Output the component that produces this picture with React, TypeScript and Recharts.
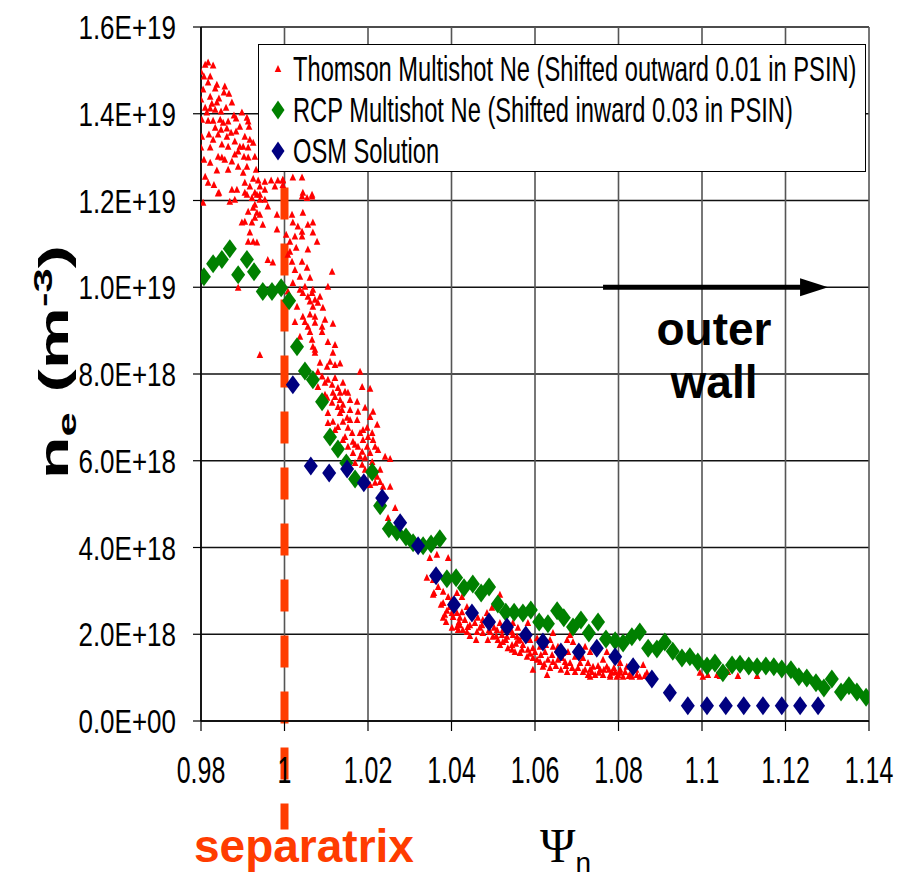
import React from 'react'
import {
  ScatterChart, Scatter, XAxis, YAxis, CartesianGrid,
  ReferenceLine, Legend, Customized,
} from 'recharts'

// axis ticks: psi_n and n_e in units of 1e18 m^-3
const psiTicks = [0.98, 1.0, 1.02, 1.04, 1.06, 1.08, 1.1, 1.12, 1.14]
const neTicks = [0, 2, 4, 6, 8, 10, 12, 14, 16]

// Thomson multishot [psi_n, n_e (1e18)]
const thomson: [number, number][] = [
  [0.9817, 15.18], [0.981, 15.13], [0.9829, 15.11], [0.98, 14.97], [0.9807, 14.86], [0.9822, 14.86],
  [0.9817, 14.72], [0.9838, 14.67], [0.9805, 14.56], [0.9834, 14.58], [0.9857, 14.63], [0.9855, 14.49],
  [0.9867, 14.46], [0.98, 14.33], [0.9822, 14.39], [0.9843, 14.35], [0.9826, 14.23], [0.9838, 14.26],
  [0.9874, 14.26], [0.986, 14.14], [0.9822, 14.12], [0.9834, 14.09], [0.9814, 14.03], [0.9879, 13.96],
  [0.9898, 14.03], [0.9802, 13.86], [0.9817, 13.84], [0.9829, 13.84], [0.9846, 13.86], [0.9853, 13.79],
  [0.9865, 13.82], [0.9884, 13.89], [0.991, 13.91], [0.9913, 13.82], [0.9893, 13.7], [0.9915, 13.7],
  [0.9834, 13.68], [0.9848, 13.63], [0.9862, 13.66], [0.9872, 13.56], [0.9802, 13.47], [0.9819, 13.52],
  [0.9841, 13.52], [0.9862, 13.47], [0.9905, 13.47], [0.9917, 13.4], [0.9881, 13.36], [0.985, 13.29],
  [0.9865, 13.24], [0.98, 13.22], [0.9822, 13.22], [0.9901, 13.24], [0.9913, 13.22], [0.9925, 13.33],
  [0.9889, 13.13], [0.9881, 13.06], [0.9841, 13.01], [0.985, 12.99], [0.9903, 13.01], [0.9913, 12.99],
  [0.9929, 13.01], [0.9822, 12.87], [0.9874, 12.9], [0.9889, 12.78], [0.991, 12.78], [0.9838, 12.69],
  [0.9865, 12.71], [0.9901, 12.64], [0.981, 12.55], [0.9925, 12.5], [0.9937, 12.46], [0.9953, 12.43],
  [0.9968, 12.46], [0.9984, 12.46], [0.9996, 12.46], [1.002, 12.53], [1.0042, 12.53], [0.9817, 12.41],
  [0.9905, 12.41], [0.9917, 12.32], [0.9941, 12.32], [0.9874, 12.25], [0.9886, 12.25], [0.9953, 12.25],
  [0.9977, 12.32], [0.9843, 12.18], [0.9905, 12.18], [0.9929, 12.18], [0.9941, 12.13], [1.0044, 12.18],
  [1.0066, 12.13], [0.9805, 11.95], [0.9841, 12.16], [0.9869, 11.97], [0.9881, 12.02], [0.991, 12.13],
  [0.9922, 12.06], [0.9934, 12.13], [0.9929, 11.9], [0.9941, 12.02], [0.9953, 12.02], [0.9913, 11.74],
  [0.9925, 11.83], [0.9934, 11.72], [0.9929, 11.6], [0.9941, 11.67], [0.996, 11.86], [0.9982, 11.67],
  [0.9905, 11.51], [0.9898, 11.49], [0.9922, 11.49], [0.9948, 11.44], [0.9917, 11.26], [0.9982, 11.33],
  [0.9913, 11.05], [0.9925, 11.05], [0.9934, 11.03], [0.996, 10.63], [0.9972, 10.57], [0.9889, 9.99],
  [0.9941, 8.44], [1.0042, 12.09], [1.0054, 12.06], [1.0066, 12.09], [1.0018, 11.67], [1.0044, 11.72],
  [1.002, 11.49], [1.0032, 11.4], [1.0042, 11.28], [1.0056, 11.44], [1.0068, 11.49], [1.0025, 11.17],
  [1.0042, 11.17], [1.0068, 11.26], [1.0013, 11.05], [1.0078, 11.05], [1.0013, 10.82], [1.0056, 10.87],
  [1.0018, 10.59], [1.0042, 10.59], [1.0025, 10.4], [1.0054, 10.45], [1.0037, 10.24], [1.0061, 10.22],
  [1.002, 10.1], [1.0049, 10.01], [1.0068, 9.94], [1.0008, 9.9], [1.0044, 9.87], [1.0056, 9.78],
  [1.0066, 9.87], [1.0073, 9.71], [1.0085, 9.78], [1.0061, 9.67], [1.0068, 9.55], [1.008, 9.64],
  [1.0092, 9.53], [1.0061, 9.37], [1.0073, 9.32], [1.0044, 9.32], [1.0049, 9.2], [1.0025, 9.2],
  [1.0073, 9.18], [1.0056, 9.09], [1.009, 9.09], [1.0061, 8.97], [1.009, 8.97], [1.0037, 8.86],
  [1.0066, 8.79], [1.0068, 8.63], [1.0073, 8.56], [0.9996, 12.48], [0.9996, 12.36], [1.0114, 10.36],
  [1.0104, 10.01], [1.0097, 9.25], [1.0116, 9.16], [1.0104, 8.74], [1.0121, 8.67], [1.0116, 8.49],
  [1.0073, 8.49], [1.0085, 8.26], [1.0109, 8.28], [1.0121, 8.21], [1.0133, 8.24], [1.0102, 8.17],
  [1.0181, 8.05], [1.009, 7.94], [1.0104, 7.87], [1.0121, 7.91], [1.0097, 7.8], [1.0114, 7.75],
  [1.014, 7.8], [1.008, 7.7], [1.0128, 7.68], [1.0186, 7.7], [1.0205, 7.66], [1.0116, 7.57],
  [1.0133, 7.57], [1.0145, 7.59], [1.0152, 7.57], [1.0102, 7.45], [1.0121, 7.47], [1.0133, 7.4],
  [1.0174, 7.36], [1.0114, 7.34], [1.0128, 7.24], [1.014, 7.29], [1.0157, 7.17], [1.0176, 7.13],
  [1.0193, 7.22], [1.0212, 7.13], [1.0104, 7.1], [1.0133, 7.1], [1.0205, 7.01], [1.015, 6.99],
  [1.0116, 6.9], [1.014, 6.9], [1.0157, 6.94], [1.0174, 6.94], [1.0222, 6.83], [1.0104, 6.87],
  [1.0128, 6.78], [1.0152, 6.76], [1.0188, 6.71], [1.0198, 6.76], [1.0162, 6.64], [1.0181, 6.64],
  [1.02, 6.55], [1.021, 6.64], [1.014, 6.48], [1.0164, 6.44], [1.0188, 6.48], [1.0212, 6.48],
  [1.0176, 6.32], [1.0198, 6.32], [1.0217, 6.32], [1.0224, 6.25], [1.0152, 6.32], [1.0164, 6.18],
  [1.0186, 6.21], [1.0205, 6.18], [1.0241, 6.09], [1.0253, 6.04], [1.0181, 6.09], [1.0193, 6.07],
  [1.0152, 6.02], [1.0169, 5.95], [1.0186, 5.91], [1.0222, 5.63], [1.0217, 5.49], [1.0205, 5.44],
  [1.0229, 5.51], [1.0236, 5.4], [1.0253, 5.4], [1.0265, 4.91], [1.0248, 4.68], [1.0348, 3.76],
  [1.0365, 3.83], [1.0392, 3.76], [1.0341, 3.3], [1.0356, 3.25], [1.0368, 3.09], [1.0356, 2.91],
  [1.038, 2.98], [1.0392, 2.86], [1.0401, 2.79], [1.0413, 2.95], [1.0425, 2.86], [1.038, 2.72],
  [1.0396, 2.63], [1.0384, 2.45], [1.0401, 2.49], [1.0413, 2.49], [1.0425, 2.51], [1.0437, 2.63],
  [1.042, 2.38], [1.0432, 2.33], [1.0449, 2.45], [1.042, 2.21], [1.0416, 2.1], [1.0439, 2.17],
  [1.0456, 2.26], [1.0468, 2.15], [1.0475, 2.33], [1.0485, 2.49], [1.0497, 2.61], [1.0516, 2.91],
  [1.0461, 2.05], [1.0475, 2.03], [1.0492, 2.05], [1.0509, 2.1], [1.0516, 2.26], [1.0528, 2.17],
  [1.0547, 2.26], [1.0545, 2.05], [1.0559, 2.15], [1.0499, 1.94], [1.0521, 1.98], [1.0523, 2.1],
  [1.0533, 1.94], [1.054, 2.1], [1.0547, 1.98], [1.0557, 1.94], [1.0564, 1.87], [1.0571, 1.75],
  [1.0583, 2.26], [1.0588, 1.87], [1.0595, 1.68], [1.0595, 1.18], [1.0605, 1.91], [1.0612, 1.71],
  [1.0624, 1.59], [1.0629, 1.06], [1.0636, 1.87], [1.0643, 1.71], [1.0643, 2.03], [1.0655, 1.71],
  [1.0677, 1.87], [1.0684, 1.98], [1.0691, 1.82], [1.0643, 1.36], [1.0655, 1.41], [1.0672, 1.36],
  [1.0684, 1.34], [1.0696, 1.48], [1.0708, 1.34], [1.0715, 1.45], [1.0727, 1.34], [1.0727, 1.06],
  [1.0739, 1.25], [1.0744, 1.06], [1.0756, 1.18], [1.0763, 1.06], [1.0772, 1.25], [1.0784, 1.11],
  [1.0792, 1.13], [1.0799, 1.06], [1.0763, 1.41], [1.0772, 1.59], [1.0732, 1.59], [1.072, 1.71],
  [1.0804, 1.34], [1.082, 1.25], [1.0827, 1.06], [1.0844, 1.06], [1.0859, 1.29], [1.0868, 1.11],
  [1.0995, 1.11], [1.1002, 1.02], [1.1014, 1.06], [1.1036, 1.06], [1.0612, 1.36], [1.0619, 1.25],
  [1.0595, 1.45], [1.0581, 1.48], [1.0564, 1.57], [1.0552, 1.59], [1.0535, 1.68], [1.0631, 1.41],
  [1.0667, 1.57], [1.0679, 1.59], [1.0701, 1.64], [1.0708, 1.68], [1.0677, 1.13], [1.0696, 1.13],
  [1.0715, 1.13], [1.0732, 1.18], [1.078, 1.02], [1.0796, 1.02], [1.0811, 1.02], [1.0832, 1.02],
  [1.0851, 1.02], [1.0358, 2.95], [1.038, 2.38], [1.0413, 2.17], [1.0437, 2.05], [1.0511, 1.87],
  [1.0545, 1.64], [1.0732, 1.02], [1.0753, 1.11], [1.078, 1.06], [1.0804, 1.11], [1.0825, 1.04],
  [1.1062, 1.13], [1.1086, 1.04], [1.1132, 1.04], [1.1043, 1.04],
  [1.0375, 2.68], [1.0389, 2.54], [1.0404, 2.4], [1.0418, 2.28], [1.0387, 2.28], [1.0401, 2.15],
  [1.0427, 2.1], [1.0444, 1.96], [1.0459, 1.87], [1.0473, 2.21], [1.0487, 1.87], [1.0502, 2.15],
  [1.0516, 1.75], [1.053, 1.87], [1.0545, 1.75], [1.0559, 1.85], [1.0574, 1.96], [1.0583, 1.64],
  [1.06, 1.59], [1.0614, 1.52], [1.0626, 1.75], [1.0641, 1.52], [1.0653, 1.64], [1.0665, 1.45],
  [1.0674, 1.27], [1.0689, 1.22], [1.0703, 1.22], [1.072, 1.18], [1.0736, 1.13], [1.0751, 1.27],
  [1.0765, 1.18], [1.0777, 1.18], [1.0789, 1.22], [1.0804, 1.18], [1.0816, 1.13], [1.0842, 1.18],
  [1.0863, 1.04], [1.0444, 2.21], [1.0463, 2.38], [1.049, 2.1], [1.0507, 1.96], [1.0523, 1.82],
  [1.0554, 1.78], [1.0569, 1.64], [1.0588, 1.55], [1.0605, 1.41], [1.0622, 1.31], [1.0636, 1.22],
  [1.065, 1.27], [1.0662, 1.18], [1.0121, 6.71], [1.0145, 6.55], [1.0169, 6.37], [1.0138, 7.17],
  [1.0157, 7.4], [1.0097, 7.52], [1.008, 8.05], [1.0193, 5.79], [1.021, 5.97], [1.0229, 5.79],
  [1.0004, 11.21], [1.0008, 10.75], [1.0028, 10.91], [1.0037, 9.94], [1.003, 9.55], [0.981, 14.14],
  [0.9829, 13.4], [0.9848, 14.05], [0.9884, 13.59], [0.9857, 12.94], [0.9893, 13.24], [0.9932, 12.71],
  [0.9807, 12.94], [0.9831, 12.36],
]

// RCP multishot
const rcp: [number, number][] = [
  [0.9807, 10.24], [0.9829, 10.54], [0.985, 10.64], [0.9869, 10.89], [0.9889, 10.29], [0.991, 10.64],
  [0.9927, 10.36], [0.9948, 9.9], [0.997, 9.9], [0.9992, 9.99], [1.0011, 9.69], [1.003, 8.63],
  [1.0049, 8.07], [1.0068, 7.87], [1.009, 7.36], [1.0109, 6.55], [1.0128, 6.27], [1.0148, 5.95],
  [1.0169, 5.58], [1.021, 5.74], [1.0229, 4.96], [1.025, 4.43], [1.0269, 4.36], [1.0291, 4.24],
  [1.0308, 4.11], [1.0332, 4.04], [1.0351, 4.08], [1.0372, 4.2], [1.0389, 3.28], [1.0411, 3.3],
  [1.043, 3.07], [1.0451, 3.16], [1.0471, 2.95], [1.049, 3.09], [1.0511, 2.7], [1.053, 2.51],
  [1.055, 2.51], [1.0571, 2.49], [1.059, 2.56], [1.061, 2.28], [1.0631, 2.24], [1.0653, 2.54],
  [1.0669, 2.38], [1.0691, 2.17], [1.071, 2.33], [1.0729, 2.03], [1.0751, 2.28], [1.077, 1.89],
  [1.0792, 1.85], [1.0811, 1.8], [1.0832, 1.94], [1.0851, 2.05], [1.0871, 1.68], [1.0892, 1.66],
  [1.0911, 1.82], [1.093, 1.61], [1.0952, 1.45], [1.0971, 1.48], [1.099, 1.36], [1.1012, 1.27],
  [1.1031, 1.34], [1.105, 1.11], [1.1072, 1.29], [1.1091, 1.31], [1.1112, 1.27], [1.1132, 1.25],
  [1.1153, 1.27], [1.1172, 1.25], [1.1191, 1.2], [1.1213, 1.18], [1.1232, 1.02], [1.1251, 0.99],
  [1.1273, 0.88], [1.1292, 0.76], [1.1311, 0.97], [1.1333, 0.67], [1.1352, 0.81], [1.1371, 0.67],
  [1.1393, 0.55],
]

// OSM solution
const osm: [number, number][] = [
  [1.002, 7.75], [1.0063, 5.88], [1.0107, 5.72], [1.015, 5.81], [1.019, 5.49], [1.0234, 5.14],
  [1.0277, 4.57], [1.032, 4.04], [1.0363, 3.35], [1.0406, 2.68], [1.0449, 2.49], [1.049, 2.28],
  [1.0533, 2.17], [1.0578, 1.98], [1.0619, 1.82], [1.0662, 1.59], [1.0705, 1.59], [1.0748, 1.68],
  [1.0792, 1.48], [1.0835, 1.25], [1.088, 0.97], [1.0923, 0.65], [1.0966, 0.35], [1.1012, 0.35],
  [1.1057, 0.35], [1.11, 0.35], [1.1146, 0.35], [1.1191, 0.35], [1.1235, 0.35], [1.1278, 0.35],
]

const separatrixPsi = 1.0
const wallArrow = { from: 1.0763, to: 1.1302, ne: 10 }

const FONT = '"Liberation Sans", Arial, sans-serif'
const ORANGE = '#ff3c00'

const toPts = (arr: [number, number][]) => arr.map(([x, y]) => ({ x, y }))

// 1.6E+19 style labels
const fmtNe = (v: number) => {
  const [m, ex] = (v * 1e18).toExponential(1).split('e')
  const n = parseInt(ex, 10)
  return `${m}E${n < 0 ? '-' : '+'}${String(Math.abs(n)).padStart(2, '0')}`
}
const fmtPsi = (v: number) => String(Number(v.toFixed(2)))

const Triangle = (p: any) => (
  <polygon
    points={`${p.cx},${p.cy - 4} ${p.cx - 3.3},${p.cy + 3} ${p.cx + 3.3},${p.cy + 3}`}
    fill="#ff0000"
  />
)

const diamond = (color: string) => (p: any) => (
  <polygon
    points={`${p.cx},${p.cy - 9.5} ${p.cx + 7},${p.cy} ${p.cx},${p.cy + 9.5} ${p.cx - 7},${p.cy}`}
    fill={color}
  />
)

const XTick = ({ x, y, payload }: any) => (
  <g transform={`translate(${x},${y})`}>
    <text transform="scale(1,1.5)" y={35} textAnchor="middle" fontFamily={FONT} fontSize={25} fill="#000">
      {fmtPsi(payload.value)}
    </text>
  </g>
)

const YTick = ({ x, y, payload }: any) => (
  <g transform={`translate(${x},${y})`}>
    <text transform="scale(1,1.3)" y={9.3} textAnchor="end" fontFamily={FONT} fontSize={26} fill="#000">
      {fmtNe(payload.value)}
    </text>
  </g>
)

const ArrowShape = (p: any) => {
  const { x1, y1, x2 } = p
  return (
    <g>
      <line x1={x1} y1={y1} x2={x2 - 22} y2={y1} stroke="#000" strokeWidth={5} />
      <polygon points={`${x2},${y1} ${x2 - 28},${y1 - 9} ${x2 - 28},${y1 + 9}`} fill="#000" />
    </g>
  )
}

const Annotations = () => (
  <g>
    <text x={714} y={345} textAnchor="middle" fontFamily={FONT} fontWeight="bold" fontSize={46}>outer</text>
    <text x={714} y={398} textAnchor="middle" fontFamily={FONT} fontWeight="bold" fontSize={46}>wall</text>
    <text x={194} y={862} fontFamily={FONT} fontWeight="bold" fontSize={46} fill={ORANGE}>separatrix</text>
    <text x={540} y={862} fontFamily='"Liberation Serif", "Times New Roman", serif' fontSize={48}>
      Ψ<tspan fontFamily={FONT} fontSize={28} dy={10}>n</tspan>
    </text>
    <text
      transform="translate(68,362) rotate(-90) scale(1.75,1)"
      textAnchor="middle"
      fontFamily={FONT}
      fontWeight="bold"
      fontSize={40}
    >
      n<tspan fontSize={25} dy={8}>e</tspan>
      <tspan dy={-8}>{' (m'}</tspan>
      <tspan fontSize={25} dy={-16}>-3</tspan>
      <tspan dy={16}>)</tspan>
    </text>
  </g>
)

const legendRows = [
  { label: 'Thomson Multishot Ne (Shifted outward 0.01 in PSIN)', kind: 'tri', color: '#ff0000' },
  { label: 'RCP Multishot Ne (Shifted inward 0.03 in PSIN)', kind: 'dia', color: '#008000' },
  { label: 'OSM Solution', kind: 'dia', color: '#000080' },
]

const LegendBox = () => (
  <div
    style={{
      position: 'relative', width: 608, height: 128, boxSizing: 'border-box',
      background: '#fff', border: '1.5px solid #000', fontFamily: FONT,
    }}
  >
    {legendRows.map((r, i) => (
      <div key={r.label} style={{ position: 'absolute', left: 0, top: 4 + i * 41, height: 40, width: '100%' }}>
        <svg width={30} height={40} style={{ position: 'absolute', left: 4, top: 0 }}>
          {r.kind === 'tri'
            ? <polygon points="15,16 11.7,23 18.3,23" fill={r.color} />
            : <polygon points="15,10.5 21.5,20 15,29.5 8.5,20" fill={r.color} />}
        </svg>
        <span
          style={{
            position: 'absolute', left: 34, top: 7, fontSize: 23.7, lineHeight: '26px',
            whiteSpace: 'nowrap', transform: 'scaleY(1.45)', transformOrigin: 'left center', color: '#000',
          }}
        >
          {r.label}
        </span>
      </div>
    ))}
  </div>
)

export default function App() {
  return (
    <div style={{ position: 'absolute', left: 0, top: 0, width: 902, height: 877, background: '#fff' }}>
      <ScatterChart width={902} height={877} margin={{ top: 27, right: 33, bottom: 126, left: 0 }}>
        <CartesianGrid horizontal vertical={false} stroke="#111" strokeWidth={1.6} />
        <CartesianGrid horizontal={false} vertical stroke="#555" strokeWidth={1.6} />
        <XAxis
          type="number"
          dataKey="x"
          domain={[0.98, 1.14]}
          ticks={psiTicks}
          height={30}
          tickSize={10}
          tickMargin={0}
          tick={<XTick />}
          axisLine={{ stroke: '#000', strokeWidth: 1.6 }}
          tickLine={{ stroke: '#000', strokeWidth: 1.2 }}
          allowDataOverflow
        />
        <YAxis
          type="number"
          dataKey="y"
          domain={[0, 16]}
          ticks={neTicks}
          width={201}
          tickSize={8}
          tickMargin={17}
          tick={<YTick />}
          axisLine={{ stroke: '#000', strokeWidth: 1.6 }}
          tickLine={{ stroke: '#000', strokeWidth: 1.2 }}
          allowDataOverflow
        />
        <ReferenceLine
          segment={[{ x: separatrixPsi, y: 12.3 }, { x: separatrixPsi, y: -2.5 }]}
          stroke={ORANGE}
          strokeWidth={8}
          strokeDasharray="32 24"
          ifOverflow="visible"
        />
        <Scatter data={toPts(thomson)} shape={Triangle} isAnimationActive={false} />
        <Scatter data={toPts(rcp)} shape={diamond('#008000')} isAnimationActive={false} />
        <Scatter data={toPts(osm)} shape={diamond('#000080')} isAnimationActive={false} />
        <ReferenceLine
          segment={[{ x: wallArrow.from, y: wallArrow.ne }, { x: wallArrow.to, y: wallArrow.ne }]}
          shape={ArrowShape}
          ifOverflow="visible"
        />
        <Customized component={Annotations} />
        <Legend
          layout="vertical"
          align="center"
          verticalAlign="middle"
          wrapperStyle={{ left: 258, top: 44, width: 608, height: 128 }}
          content={() => <LegendBox />}
        />
      </ScatterChart>
    </div>
  )
}
